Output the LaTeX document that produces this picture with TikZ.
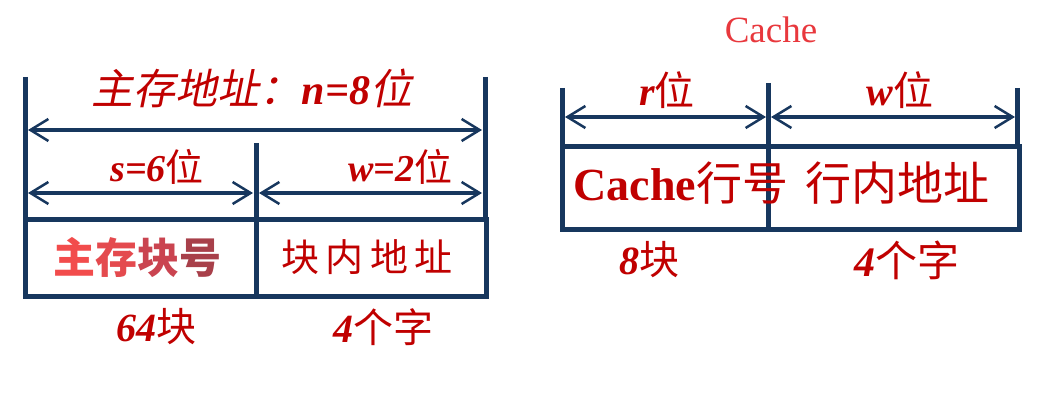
\documentclass[tikz,border=0pt]{standalone}
\usepackage{fontspec}
\setmainfont{Liberation Serif}
\newfontfamily\cjk{Noto Sans CJK SC}
\newfontfamily\cjkit[FakeSlant=0.2]{Noto Sans CJK SC}
\usetikzlibrary{arrows.meta}
\definecolor{boxblue}{HTML}{17375E}
\definecolor{txtred}{HTML}{C00000}
\definecolor{capred}{HTML}{E8383D}
\definecolor{redA}{HTML}{F24C4C}
\definecolor{redB}{HTML}{E44A4E}
\definecolor{redC}{HTML}{CA4450}
\definecolor{redD}{HTML}{A8404A}
\newcommand\hz[1]{{\cjk #1}}
\newcommand\bi[1]{{\rmfamily\bfseries\itshape #1}}
\tikzset{
  frame/.style={draw=boxblue,line width=5pt},
  dim/.style={draw=boxblue,line width=4pt,<->},
  lbl/.style={text=txtred,inner sep=0pt,font=\fontsize{40}{40}\selectfont},
}
\begin{document}
\begin{tikzpicture}[x=1pt,y=-1pt,>={Straight Barb[length=18pt,width=22pt,line width=2.5pt]}]
\useasboundingbox (0,0) rectangle (1061,414);
% main memory address
\coordinate (mA) at (25,77);  \coordinate (mB) at (485,77);
\coordinate (mM) at (256,143);
\coordinate (mTL) at (25,220); \coordinate (mBR) at (486,297);
\draw[frame] (mA)--(mTL) (mB)--(mB|-mTL) (mM)--(mM|-mBR);
\draw[frame] (mTL) rectangle (mBR);
\coordinate (nL) at (28,130); \coordinate (nR) at (482,130);
\coordinate (sL) at (28,193); \coordinate (sR) at (253,193);
\coordinate (wL) at (259,193); \coordinate (wR) at (482,193);
\foreach \x/\y in {nL/nR,sL/sR,wL/wR}
\draw[dim](\x)--(\y);
\node[lbl,font=\fontsize{42}{42}\selectfont] (maddr) at (252,88) {\cjkit 主存地址：\bi{n=8}位};
\node[lbl,font=\fontsize{38}{38}\selectfont] (sbits) at (157,167) {\bi{s=6}\hz{位}};
\node[lbl,font=\fontsize{38}{38}\selectfont] (wbits) at (400,167) {\bi{w=2}\hz{位}};
\node[lbl,font=\fontsize{42}{42}\selectfont\bfseries] (blkno) at (137,257)
  {\hz{\textcolor{redA}{主}\textcolor{redB}{存}\textcolor{redC}{块}\textcolor{redD}{号}}};
\node[lbl,font=\fontsize{38}{38}\selectfont] (blkoff) at (367,257) {\hz{块\,内\,地\,址}};
\node[lbl] (nblk) at (156,327) {\bi{64}\hz{块}};
\node[lbl] (nword) at (383,327) {\bi{4}\hz{个字}};
% cache address
\node[text=capred,inner sep=0pt,font=\fontsize{37}{37}\selectfont] (ctitle) at (771,30) {Cache};
\coordinate (cA) at (562,88); \coordinate (cB) at (1017,88);
\coordinate (cM) at (768,83);
\coordinate (cTL) at (562,147); \coordinate (cBR) at (1019,230);
\draw[frame] (cA)--(cTL) (cB)--(cB|-cTL) (cM)--(cM|-cBR);
\draw[frame] (cTL) rectangle (cBR);
\coordinate (rL) at (565,117); \coordinate (rR) at (766,117);
\coordinate (vL) at (771,117); \coordinate (vR) at (1015,117);
\foreach \x/\y in {rL/rR,vL/vR}
\draw[dim](\x)--(\y);
\node[lbl] (rbits) at (667,90) {\bi{r}\hz{位}};
\node[lbl] (vbits) at (900,90) {\bi{w}\hz{位}};
\node[lbl,font=\fontsize{46}{46}\selectfont] (lineno) at (681,183) {{\bfseries Cache}\hz{行号}};
\node[lbl,font=\fontsize{46}{46}\selectfont] (lineoff) at (897,183) {\hz{行内地址}};
\node[lbl] (nline) at (649,260) {\bi{8}\hz{块}};
\node[lbl,font=\fontsize{42}{42}\selectfont] (cword) at (907,260) {\bi{4}\hz{个字}};
\end{tikzpicture}
\end{document}
